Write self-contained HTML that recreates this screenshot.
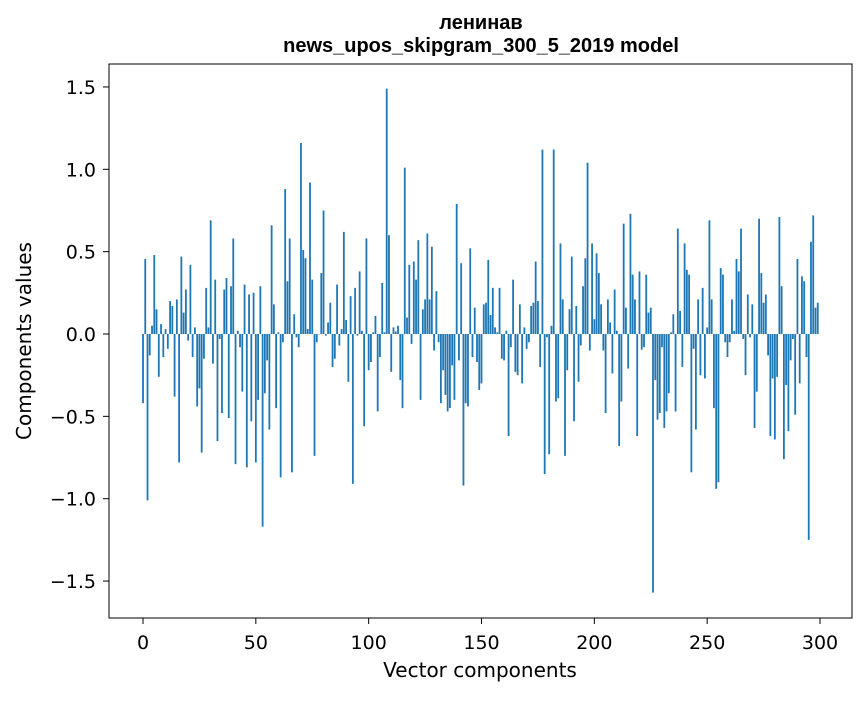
<!DOCTYPE html>
<html><head><meta charset="utf-8"><style>
html,body{margin:0;padding:0;background:#fff;}
svg text{font-family:"DejaVu Sans","Liberation Sans",sans-serif;fill:#000;}
svg text.title{font-family:"Liberation Sans","DejaVu Sans",sans-serif;}
</style></head><body>
<svg id="chart" width="867" height="696" xmlns="http://www.w3.org/2000/svg">
<rect x="0" y="0" width="867" height="696" fill="#fff"/>
<text class="title" x="481" y="29" text-anchor="middle" font-size="20" font-weight="bold">ленинав</text>
<text class="title" x="481" y="52" text-anchor="middle" font-size="20" font-weight="bold">news_upos_skipgram_300_5_2019 model</text>
<g id="bars"></g>
<g id="xticks"></g>
<g id="yticks"></g>
<rect x="109" y="64" width="743" height="554" fill="none" stroke="#000" stroke-width="1"/>
<text x="480" y="677" text-anchor="middle" font-size="20">Vector components</text>
<text transform="translate(31,341) rotate(-90)" text-anchor="middle" font-size="20">Components values</text>
</svg>
<script>
const values = [
-0.42,0.455,-1.01,-0.13,0.05,0.48,0.15,-0.26,0.06,-0.14,
0.03,-0.09,0.2,0.17,-0.38,0.21,-0.78,0.47,0.13,0.27,
-0.04,0.42,-0.14,0.04,-0.44,-0.33,-0.72,-0.15,0.28,0.04,
0.69,-0.18,0.33,-0.65,-0.03,-0.48,0.27,0.34,-0.51,0.29,
0.58,-0.79,0.02,-0.08,-0.35,0.30,-0.81,0.24,-0.53,0.25,
-0.78,-0.40,0.29,-1.17,-0.36,-0.16,-0.58,0.66,0.18,-0.45,
0.01,-0.87,-0.05,0.88,0.32,0.58,-0.84,0.12,-0.02,-0.08,
1.16,0.51,0.46,0.03,0.92,0.33,-0.74,-0.05,0.0,0.37,
0.75,-0.01,0.07,0.19,-0.2,-0.15,0.30,-0.07,0.03,0.62,
0.085,-0.29,0.23,-0.91,0.28,-0.01,0.38,0.02,-0.56,0.58,
-0.22,-0.17,0.01,0.11,-0.47,-0.14,0.31,0.01,1.49,0.60,
-0.23,0.04,0.015,0.05,-0.28,-0.45,1.01,0.10,0.42,-0.06,
0.44,0.33,0.57,-0.40,0.15,0.21,0.61,0.21,0.53,-0.10,
0.26,-0.05,-0.42,-0.22,-0.37,-0.47,-0.45,-0.19,-0.40,0.79,
-0.16,0.43,-0.92,-0.42,-0.44,0.52,-0.14,0.16,-0.17,-0.34,
-0.30,0.18,0.19,0.45,0.115,0.28,0.04,0.01,0.28,-0.15,
-0.16,0.02,-0.62,-0.08,0.33,-0.23,-0.25,0.18,-0.30,0.04,
-0.09,-0.05,0.17,0.19,0.44,0.20,-0.20,1.12,-0.85,-0.02,
-0.73,0.05,1.12,-0.41,-0.39,0.55,0.21,-0.74,-0.22,0.15,
0.47,-0.53,0.17,-0.29,-0.07,0.29,0.46,1.04,-0.10,0.55,
0.09,0.49,0.37,0.18,-0.10,-0.48,0.21,0.07,-0.24,0.27,
0.02,-0.68,-0.41,0.67,0.16,-0.21,0.73,0.36,0.21,-0.62,
0.38,-0.095,-0.08,0.36,0.13,0.16,-1.57,-0.28,-0.52,-0.48,
-0.08,-0.57,-0.47,-0.36,0.01,0.12,-0.47,0.64,0.14,-0.20,
0.55,0.39,0.36,-0.84,-0.09,-0.58,0.21,-0.25,0.28,-0.27,
0.04,0.69,0.21,-0.45,-0.94,-0.90,0.40,0.36,-0.05,-0.14,
-0.05,0.21,0.02,0.455,0.38,0.64,-0.03,-0.25,0.24,-0.02,
0.18,-0.57,-0.35,0.70,0.37,0.19,0.24,-0.13,-0.62,-0.27,
-0.64,-0.26,0.71,0.29,-0.76,-0.31,-0.59,-0.16,-0.03,-0.49,
0.455,-0.30,0.35,0.32,-0.14,-1.25,0.56,0.72,0.16,0.19
];
const xTicks = [0,50,100,150,200,250,300];
const yTicks = [-1.5,-1.0,-0.5,0.0,0.5,1.0,1.5];
const NS = "http://www.w3.org/2000/svg";
function xs(v){ return 143 + v*(820-143)/300; }
function ys(v){ return 334 - v*164.7; }
const bars = document.getElementById('bars');
const bw = 0.8*(820-143)/300;
values.forEach((v,i)=>{
  const r = document.createElementNS(NS,'rect');
  
  
  const y0 = ys(0), y1 = ys(v);
  r.setAttribute('x', xs(i)-bw/2);
  r.setAttribute('y', Math.min(y0,y1));
  r.setAttribute('width', bw);
  r.setAttribute('height', Math.max(Math.abs(y1-y0),0.3));
  r.setAttribute('fill', '#1f77b4');
  bars.appendChild(r);
});
const xg = document.getElementById('xticks');
xTicks.forEach(t=>{
  const l = document.createElementNS(NS,'line');
  
  
  l.setAttribute('x1', xs(t)); l.setAttribute('x2', xs(t));
  l.setAttribute('y1', 618); l.setAttribute('y2', 624);
  l.setAttribute('stroke', '#000');
  xg.appendChild(l);
  const tx = document.createElementNS(NS,'text');
  
  
  tx.setAttribute('x', xs(t)); tx.setAttribute('y', 649);
  tx.setAttribute('text-anchor', 'middle');
  tx.setAttribute('font-size', '19');
  tx.textContent = t;
  xg.appendChild(tx);
});
const yg = document.getElementById('yticks');
yTicks.forEach(t=>{
  const l = document.createElementNS(NS,'line');
  
  
  l.setAttribute('x1', 103); l.setAttribute('x2', 109);
  l.setAttribute('y1', ys(t)); l.setAttribute('y2', ys(t));
  l.setAttribute('stroke', '#000');
  yg.appendChild(l);
  const tx = document.createElementNS(NS,'text');
  
  
  tx.setAttribute('x', 96); tx.setAttribute('y', ys(t)+7);
  tx.setAttribute('text-anchor', 'end');
  tx.setAttribute('font-size', '19');
  tx.textContent = (t<0?'\u2212':'') + Math.abs(t).toFixed(1);
  yg.appendChild(tx);
});
</script>
</body></html>
